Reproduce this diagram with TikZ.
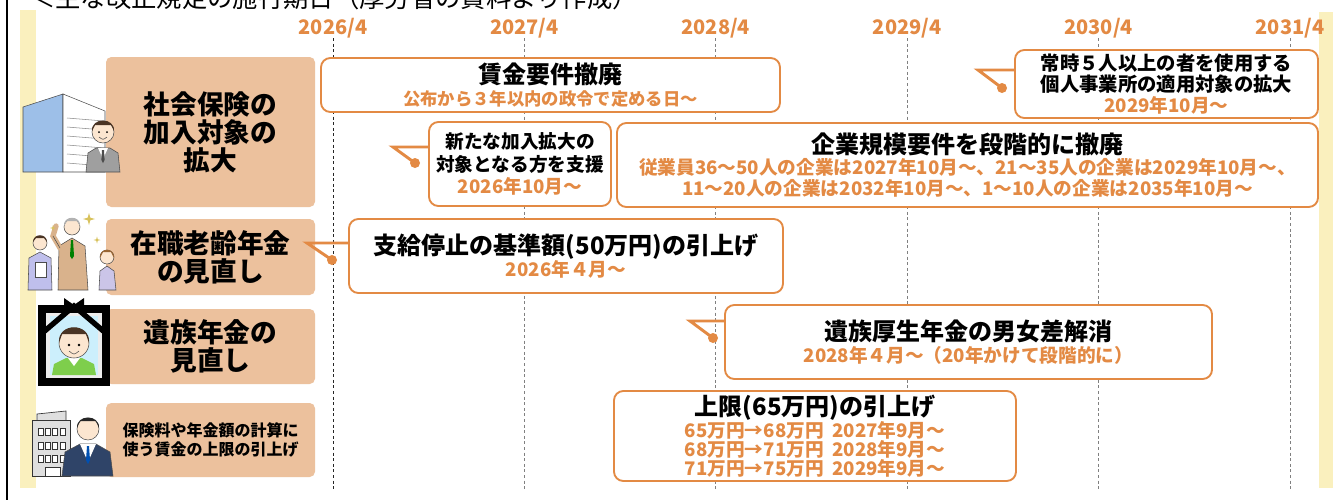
\documentclass[tikz,border=0pt]{standalone}
\usepackage{fontspec}
\setmainfont{Noto Sans CJK JP}
\definecolor{ora}{HTML}{E38A44}
\definecolor{peach}{HTML}{ECC19D}
\definecolor{cream}{HTML}{FAF0BE}
\definecolor{skin}{HTML}{FCE6D0}
\definecolor{hair}{HTML}{4A3424}
\definecolor{navy}{HTML}{2F4468}
\definecolor{bldg}{HTML}{9DBFE8}
\definecolor{gold}{HTML}{D8C25C}
\newcommand{\spark}[3]{\fill[gold,shift={(#1,#2)},scale=#3] (0,-1)--(.22,-.22)--(1,0)--(.22,.22)--(0,1)--(-.22,.22)--(-1,0)--(-.22,-.22)--cycle;}
\newcommand{\evlink}[3]{\coordinate (#1k) at (#2);\node[dot] (#1d) at (#3) {};\draw[link] (#1.west |- #1k) -- (#1k) -- (#1d.center);}

\begin{document}
\begin{tikzpicture}[x=0.75pt,y=-0.75pt,
  cat/.style={fill=peach,rounded corners=4pt,align=center,inner sep=0pt,minimum width=156.75pt,font=\bfseries\fontsize{20}{21}\selectfont},
  ev/.style={draw=ora,line width=1.4pt,fill=white,rounded corners=7pt,align=center,inner sep=0pt,font=\bfseries\fontsize{14}{17}\selectfont},
  yr/.style={text=ora,inner sep=0pt,font=\bfseries\fontsize{15}{15}\selectfont},
  tick/.style={dash pattern=on 2.2pt off 2pt,line width=0.7pt},
  link/.style={ora,line width=2.2pt},
  dot/.style={circle,fill=ora,inner sep=0pt,minimum size=7.5pt},
  thin/.style={draw=black!70,line width=0.4pt}]
\useasboundingbox (0,0) rectangle (1333,500);
\fill[white] (0,0) rectangle (1333,500);
\node[anchor=base west,inner sep=0pt,font=\fontsize{19}{19}\selectfont] (ttl) at (30,7) {＜主な改正規定の施行期日（厚労省の資料より作成）};
\draw[line width=2pt] (7,0)--(7,500);
\fill[cream] (20,10) rectangle (36,488);\fill[cream] (1319,12) rectangle (1333,488);
\coordinate (bot) at (0,490);
% time axis
\foreach \yr/\tone [count=\i from 0] in {2026/black!85,2027/gray,2028/gray,2029/gray,2030/gray,2031/gray}{
  \node[yr] (t\yr) at (333+191.4*\i,28) {\yr/4};
  \draw[tick,\tone] (t\yr.south) -- (t\yr.south |- bot);
}
% themes
\node[cat,minimum height=112.5pt] (c1) at (210.5,132) {社会保険の\\加入対象の\\拡大};
\node[cat,minimum height=57pt] (c2) at (210.5,257) {在職老齢年金\\の見直し};
\node[cat,minimum height=56.25pt] (c3) at (210.5,346.5) {遺族年金の\\見直し};
\node[cat,minimum height=55.5pt,font=\bfseries\fontsize{12}{14.5}\selectfont] (c4) at (210.5,440) {保険料や年金額の計算に\\使う賃金の上限の引上げ};
% changes
\node[ev,minimum width=344.25pt,minimum height=40.5pt] (e1) at (550.5,85) {{\fontsize{18}{17}\selectfont 賃金要件撤廃}\\{\color{ora}\fontsize{13}{17}\selectfont 公布から３年以内の政令で定める日～}};
\node[ev,minimum width=136.5pt,minimum height=63pt] (e2) at (520,164) {新たな加入拡大の\\対象となる方を支援\\{\color{ora}2026年10月～}};
\node[ev,minimum width=525.75pt,minimum height=63pt,font=\bfseries\fontsize{14}{16}\selectfont] (e3) at (967.5,165) {{\fontsize{18}{16}\selectfont 企業規模要件を段階的に撤廃}\\{\color{ora}従業員36～50人の企業は2027年10月～、21～35人の企業は2029年10月～、}\\{\color{ora}11～20人の企業は2032年10月～、1～10人の企業は2035年10月～}};
\node[ev,minimum width=227.25pt,minimum height=51pt,font=\bfseries\fontsize{14.5}{16}\selectfont] (e4) at (1166.5,84) {常時５人以上の者を使用する\\個人事業所の適用対象の拡大\\{\color{ora}\fontsize{14}{16}\selectfont 2029年10月～}};
\node[ev,minimum width=325.5pt,minimum height=55.5pt,font=\bfseries\fontsize{14}{16}\selectfont] (e5) at (566,256) {{\fontsize{18}{16}\selectfont 支給停止の基準額(50万円)の引上げ}\\{\color{ora}2026年４月～}};
\node[ev,minimum width=365.25pt,minimum height=55.5pt] (e6) at (968.5,342) {{\fontsize{18}{17}\selectfont 遺族厚生年金の男女差解消}\\{\color{ora}2028年４月～（20年かけて段階的に）}};
\node[ev,minimum width=301.5pt,minimum height=67.5pt,font=\bfseries\fontsize{14}{14.25}\selectfont] (e7) at (815,436) {{\fontsize{18}{15.75}\selectfont 上限(65万円)の引上げ}\\{\color{ora}65万円→68万円\ \ 2027年9月～}\\{\color{ora}68万円→71万円\ \ 2028年9月～}\\{\color{ora}71万円→75万円\ \ 2029年9月～}};
\evlink{e2}{393,147}{415,163}
\evlink{e4}{978,70}{1002,88}
\evlink{e5}{307,243}{332,260}
\evlink{e6}{690,321}{713,338}
% office building and worker
\filldraw[fill=bldg,thin] (23,107)--(63,94)--(63,172)--(23,172)--cycle;
\filldraw[fill=white,thin] (63,94)--(105,111)--(105,172)--(63,172)--cycle;
\foreach \h in {118,127,136,145,154,163} \draw[black!45,line width=0.4pt] (67,\h)--(104,\h+3);
\filldraw[fill=gray!75,thin] (86,172)--(88,153)--(96,148)--(110,148)--(118,153)--(120,172)--cycle;
\fill[white] (98,148)--(108,148)--(103,159)--cycle;\fill[black!70] (102,150)--(104,150)--(104.6,160)--(103,163)--(101.4,160)--cycle;
\filldraw[fill=skin,thin] (103,132) circle (11);
\fill[hair] (92,131) .. controls (91,117) and (115,117) .. (114,131) -- (111,125) -- (95,125) -- cycle;
\fill (99,132) circle (1);\fill (107,132) circle (1);\draw[thin] (99,137) .. controls (103,140) .. (107,137);
% working seniors
\filldraw[fill=black!30!blue!25,thin] (28,290)--(29,258)--(40,252)--(51,258)--(52,290)--cycle;
\filldraw[fill=white,thin] (35,262) rectangle (46,277);
\filldraw[fill=skin,thin] (40,243) circle (7);\fill[hair] (33,242) .. controls (33,233) and (47,233) .. (47,242) -- (44,238) -- (36,238) -- cycle;
\filldraw[fill=brown!60!white,thin] (58,290)--(59,246)--(72,238)--(85,246)--(88,290)--cycle;
\draw[brown!60!white,line width=4pt,line cap=round] (60,248)--(53,236)--(56,226);\draw[thin] (60,248)--(53,236);
\fill[green!50!black] (71,240)--(73,240)--(74,256)--(72,259)--(70,256)--cycle;
\filldraw[fill=skin,thin] (72,227) circle (8);\fill[gray!60] (64,226) .. controls (63,215) and (81,215) .. (80,226) -- (77,221) -- (67,221) -- cycle;
\filldraw[fill=cyan!10!blue!20,thin] (99,290)--(100,271)--(107,266)--(114,271)--(116,290)--cycle;
\filldraw[fill=skin,thin] (107,257) circle (7);\fill[brown!80!black] (100,258) .. controls (99,247) and (115,247) .. (114,258) -- (111,252) -- (103,252) -- cycle;
\spark{89}{219}{6}\spark{97}{240}{3.5}\spark{53}{228}{3}
% framed portrait
\fill[black] (38,305) rectangle (110,386);\fill[gray!15] (46,313) rectangle (102,378);\fill[cyan!20] (50,316) rectangle (98,375);
\fill[green!45!olive!70] (52,375)--(54,364)--(66,358)--(82,358)--(94,364)--(96,375)--cycle;
\fill[white] (68,358)--(80,358)--(74,366)--cycle;
\filldraw[fill=skin,thin] (74,343) circle (15);
\fill[hair] (59,343) .. controls (57,322) and (91,322) .. (89,343) -- (86,334) -- (62,334) -- cycle;
\fill (69,345) circle (1.3);\fill (79,345) circle (1.3);\draw[thin] (69,351) .. controls (74,355) .. (79,351);
\draw[black,line width=4pt] (40,335)--(74,306)--(108,335);
\fill (74,305)--(64,298)--(64,311)--cycle;\fill (74,305)--(84,298)--(84,311)--cycle;
% office and salaried worker
\filldraw[fill=gray!25,draw=black!80,line width=0.5pt] (37,420)--(37,414)--(66,411)--(66,420);
\filldraw[fill=gray!25,draw=black!80,line width=0.5pt] (32,420) rectangle (70,476);
\foreach \cx in {38,45,52,60} \foreach \cy in {428,442,455} \draw[black!80,fill=white,line width=0.5pt] (\cx,\cy) rectangle ++(5,7);
\draw[black!80,fill=white,line width=0.5pt] (45,467) rectangle (60,476);
\filldraw[fill=navy,thin] (62,476)--(65,452)--(80,444)--(96,444)--(110,452)--(113,476)--cycle;
\fill[white] (80,444)--(96,444)--(88,462)--cycle;\fill[blue!55!cyan!70!black] (87,446)--(89,446)--(90,460)--(88,464)--(86,460)--cycle;
\filldraw[fill=skin,thin] (88,429) circle (11);
\fill[black!85] (77,428) .. controls (76,414) and (100,414) .. (99,428) -- (96,421) -- (80,421) -- cycle;
\end{tikzpicture}
\end{document}
